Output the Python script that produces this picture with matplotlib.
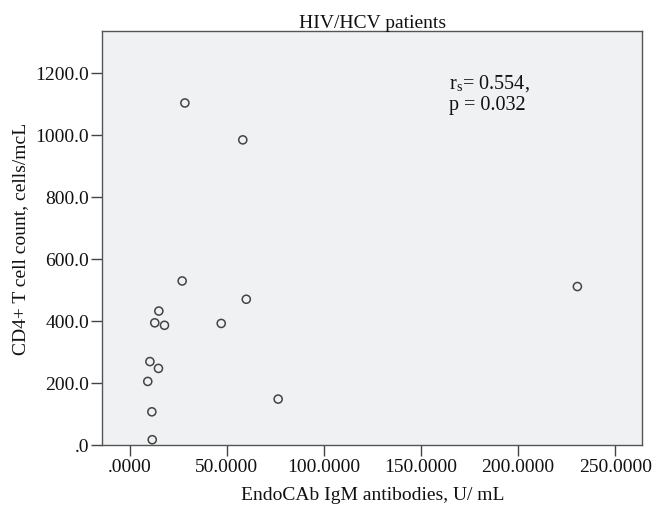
import matplotlib
matplotlib.use("Agg")
import matplotlib.pyplot as plt
import numpy as np

# Data
endocab_igm = [28.5, 58.3, 27.1, 60.1, 15.1, 13.0, 18.0, 47.2, 10.5, 14.9, 9.4, 76.5, 11.5, 11.7, 230.5]
cd4_count = [1103, 984, 529, 470, 432, 394, 386, 392, 269, 247, 205, 148, 107, 17, 511]

x_ticks = [0, 50, 100, 150, 200, 250]
x_tick_labels = [".0000", "50.0000", "100.0000", "150.0000", "200.0000", "250.0000"]
y_ticks = [0, 200, 400, 600, 800, 1000, 1200]
y_tick_labels = [".0", "200.0", "400.0", "600.0", "800.0", "1000.0", "1200.0"]

title = "HIV/HCV patients"
x_label = "EndoCAb IgM antibodies, U/ mL"
y_label = "CD4+ T cell count, cells/mcL"

plt.rcParams['font.family'] = ['Liberation Serif', 'DejaVu Serif']
plt.rcParams['mathtext.fontset'] = 'stix'

fig = plt.figure(figsize=(6.52, 5.10), dpi=100)
ax = fig.add_axes([0.1572, 0.1255, 0.8282, 0.8123])
ax.set_facecolor('#eff1f2')

ax.scatter(endocab_igm, cd4_count, s=34, facecolors='none', edgecolors='#444444', linewidths=1.1, zorder=3)

ax.set_xlim(-13.9, 264)
ax.set_ylim(0, 1336)
ax.set_xticks(x_ticks)
ax.set_xticklabels(x_tick_labels)
ax.set_yticks(y_ticks)
ax.set_yticklabels(y_tick_labels)

for s in ax.spines.values():
    s.set_color('#555555')
    s.set_linewidth(1.0)

ax.tick_params(axis='both', direction='out', length=8, width=1.0, color='#444444',
               labelsize=14, labelcolor='#111111', pad=1.5)

ax.set_title(title, fontsize=14, color='#111111', pad=2)
ax.set_xlabel(x_label, fontsize=14, color='#111111', labelpad=8)
ax.set_ylabel(y_label, fontsize=14, color='#111111', labelpad=5)

ax.text(0.642, 0.876, r'r$_\mathregular{s}$= 0.554,', transform=ax.transAxes,
        fontsize=14.5, va='center', ha='left', color='#111111')
ax.text(0.642, 0.823, 'p = 0.032', transform=ax.transAxes,
        fontsize=14.5, va='center', ha='left', color='#111111')

fig.savefig('out.png', dpi=100)
